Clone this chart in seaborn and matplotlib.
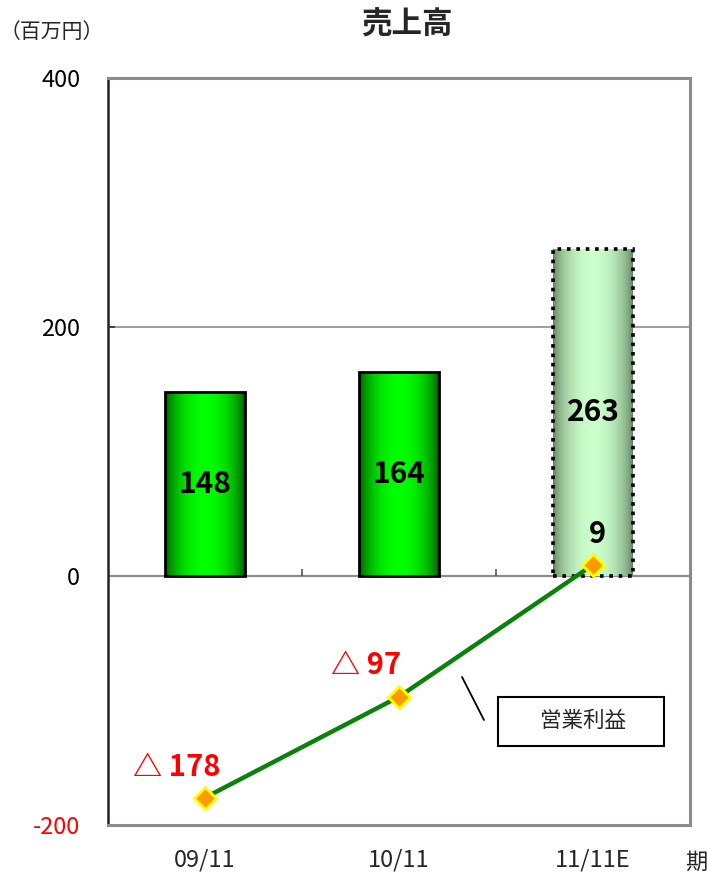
import numpy as np
import pandas as pd
import matplotlib
matplotlib.use("Agg")
import matplotlib.pyplot as plt
import seaborn as sns
from matplotlib.colors import LinearSegmentedColormap
from matplotlib.patches import Rectangle
from matplotlib.lines import Line2D

# --- data (百万円) ---
periods = ["09/11", "10/11", "11/11E"]
sales = [148, 164, 263]
op_profit = [-178, -97, 9]
y_ticks = [-200, 0, 200, 400]

# label offsets for the operating-profit values (points)
profit_label_offsets = [(-20, 22), (-24, 23), (3, 22)]

sns.set_theme(style="white")
plt.rcParams["font.family"] = ["Noto Sans CJK JP", "DejaVu Sans"]

W, H = 707, 875
fig = plt.figure(figsize=(W / 100, H / 100), dpi=100)
ax = fig.add_axes([108 / W, 50 / H, (690 - 108) / W, (825 - 78) / H])

df = pd.DataFrame({"period": periods, "sales": sales, "profit": op_profit})

# sales bars
sns.barplot(data=df, x="period", y="sales", width=0.41, color="#00ff00",
            edgecolor="black", linewidth=2, ax=ax, zorder=2)

# cylinder-like horizontal shading inside each bar
t = np.linspace(0, 1, 256)
profile = np.sin(np.pi * t) ** 0.6
grad = profile[np.newaxis, :]
cmap_actual = LinearSegmentedColormap.from_list("act", ["#004a00", "#00ff00"])
cmap_plan = LinearSegmentedColormap.from_list("plan", ["#5a7a5a", "#ccffcc"])

for i, patch in enumerate(ax.patches[:len(sales)]):
    x0, y0 = patch.get_x(), patch.get_y()
    w, h = patch.get_width(), patch.get_height()
    cmap = cmap_plan if i == len(sales) - 1 else cmap_actual
    im = ax.imshow(grad, extent=[x0, x0 + w, y0, y0 + h], aspect="auto",
                   cmap=cmap, vmin=0, vmax=1, zorder=2.5, interpolation="bilinear")
    im.set_clip_path(patch)
    patch.set_facecolor("none")
    patch.set_zorder(3)
    if i == len(sales) - 1:
        patch.set_linestyle((0, (1.0, 1.6)))
        patch.set_linewidth(2.6)

# sales values inside the bars
for i, v in enumerate(sales):
    ax.text(i, v / 2, f"{v}", ha="center", va="center", fontsize=21.5,
            fontweight="bold", color="black", zorder=6)

# operating profit line
sns.pointplot(data=df, x="period", y="profit", errorbar=None, color="#0a820a",
              markers="D", linewidth=3.2, markersize=11,
              markerfacecolor="#ff9900", markeredgecolor="#ffff00",
              markeredgewidth=2, ax=ax, zorder=5)
for line in ax.lines:
    line.set_zorder(5)

for i, v in enumerate(op_profit):
    if v < 0:
        txt, col = f"△ {abs(v)}", "#ff0000"
    else:
        txt, col = f"{v}", "black"
    ax.annotate(txt, (i, v), xytext=profit_label_offsets[i], textcoords="offset points",
                ha="center", va="center", fontsize=21, fontweight="bold",
                color=col, zorder=6)

# reference lines
ax.axhline(200, color="#8c8c8c", lw=1.2, zorder=0)
ax.axhline(0, color="#8c8c8c", lw=1.6, zorder=1)
ax.vlines([0.5, 1.5], 0, 6, color="#555555", lw=1.2, zorder=1)

ax.set_xlim(-0.5, len(periods) - 0.5)
ax.set_ylim(-200, 400)
ax.set_yticks(y_ticks)
ax.set_yticklabels([str(v) for v in y_ticks], fontsize=17)
for lbl, v in zip(ax.get_yticklabels(), y_ticks):
    lbl.set_color("#ff0000" if v < 0 else "black")
ax.set_xticks(range(len(periods)))
ax.set_xticklabels(periods, fontsize=17)
ax.tick_params(axis="y", direction="in", length=5, width=1.2, pad=20, left=True,
               color="#333333")
ax.tick_params(axis="x", length=0, pad=17)
ax.set_xlabel("")
ax.set_ylabel("")

for side in ["top", "right", "bottom"]:
    ax.spines[side].set_color("#8c8c8c")
    ax.spines[side].set_linewidth(2.2)
ax.spines["left"].set_color("#222222")
ax.spines["left"].set_linewidth(1.8)

# titles and unit labels
fig.text(407 / W, 1 - 25 / H, "売上高", ha="center", va="center",
         fontsize=22, fontweight="bold")
fig.text(52 / W, 1 - 32 / H, "（百万円）", ha="center", va="center", fontsize=15)
fig.text(696 / W, 1 - 862 / H, "期", ha="center", va="center", fontsize=16)

# callout for the line
fig.add_artist(Rectangle((498 / W, 1 - 746 / H), 166 / W, 49 / H,
                         transform=fig.transFigure, fill=True, facecolor="white",
                         edgecolor="black", lw=1.5, zorder=10))
fig.text(583 / W, 1 - 721 / H, "営業利益", ha="center", va="center",
         fontsize=15.5, zorder=11)
fig.add_artist(Line2D([462 / W, 484 / W], [1 - 677 / H, 1 - 720 / H],
                      transform=fig.transFigure, color="black", lw=1.3))

fig.savefig("out.png", dpi=100)
